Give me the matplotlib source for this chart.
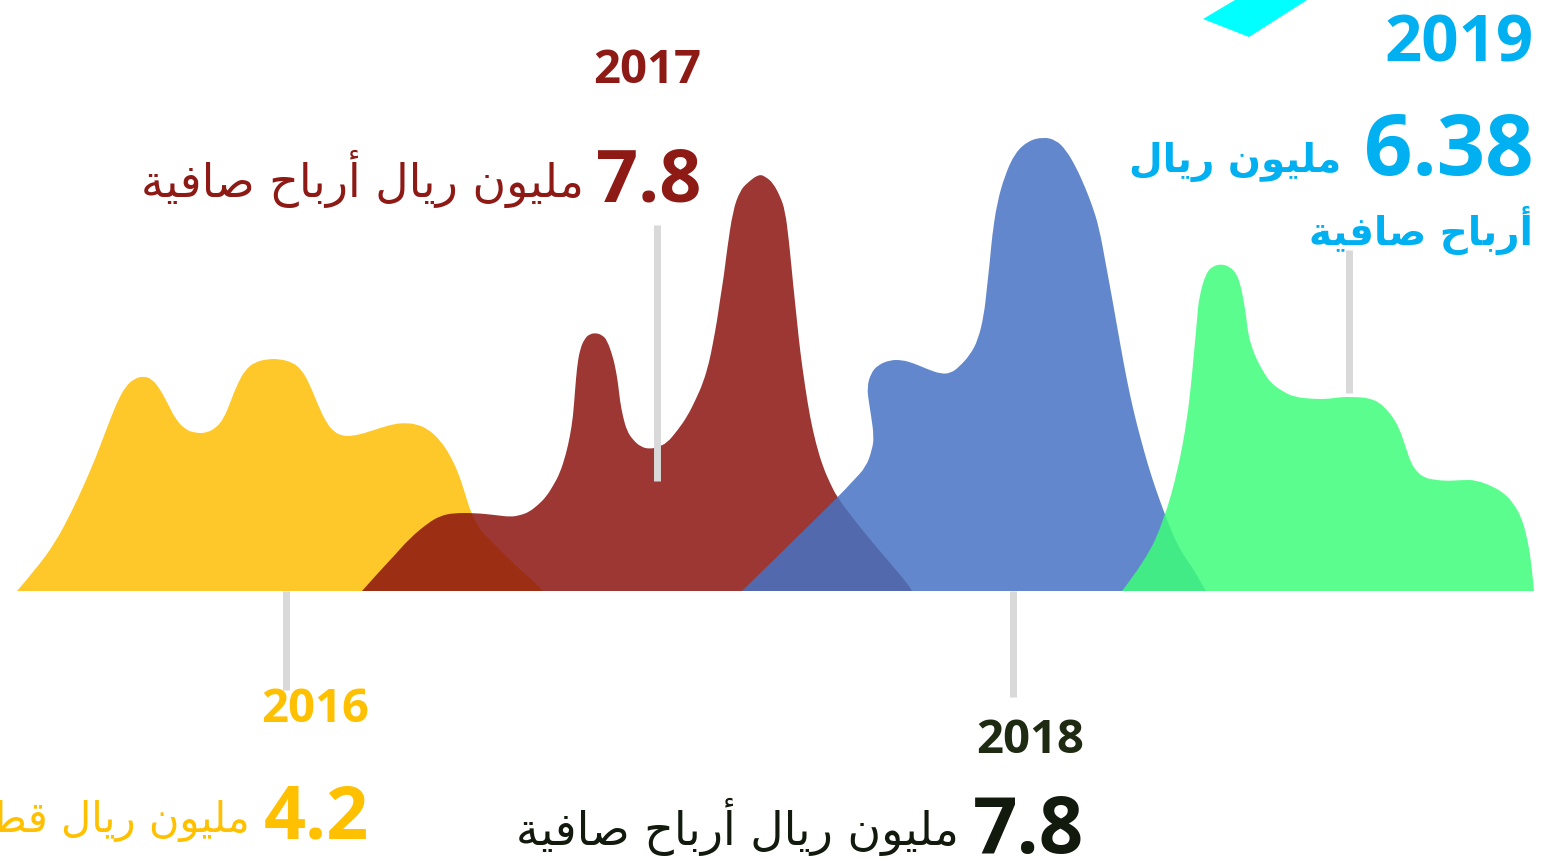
import matplotlib.pyplot as plt
from matplotlib.path import Path
from matplotlib.patches import PathPatch

# outlines of the four humps: x position (px) and height above the baseline (px)
x_2016 = [17, 36, 55, 71, 84, 96, 108, 118, 126, 134, 143, 152, 160, 168, 176, 186, 196, 206, 216, 224,
          230, 237, 245, 255, 268, 279, 292, 302, 310, 318, 326, 334, 343, 352, 365, 380, 394, 404, 416,
          428, 440, 450, 458, 464, 471, 480, 490, 500, 515, 530, 543]
h_2016 = [0, 22, 48, 78, 106, 134, 166, 191, 205, 212, 215, 212, 202, 187, 171, 161, 158, 158, 163, 173,
          188, 206, 221, 229, 232, 232, 229, 221, 206, 186, 169, 159, 155, 155, 158, 163, 167, 168, 167,
          162, 151, 136, 119, 101, 78, 61, 51, 41, 26, 13, 0]

x_2017 = [362, 378, 393, 410, 428, 440, 453, 475, 495, 511, 521, 529, 538, 546, 553, 560, 566, 570, 573,
          575, 577, 580, 585, 590, 596, 602, 607, 613, 616, 618, 620, 623, 627, 633, 641, 650, 658, 667,
          677, 687, 696, 703, 709, 713, 717, 720, 724, 727, 733, 740, 747, 759, 766, 773, 780, 785, 789,
          793, 797, 800, 805, 810, 816, 823, 830, 837, 855, 873, 890, 907, 912]
h_2017 = [0, 18, 34, 53, 68, 75, 78, 78, 76, 74, 76, 79, 86, 94, 105, 118, 137, 155, 174,
          200, 224, 242, 253, 257, 258, 256, 251, 234, 220, 208, 190, 174, 160, 151, 144, 142, 144, 148,
          160, 174, 192, 208, 228, 248, 270, 291, 316, 341, 381, 400, 408, 417, 414, 408, 395, 381, 350,
          308, 270, 241, 205, 174, 147, 124, 108, 94, 70, 48, 28, 8, 0]

x_2018 = [742, 790, 838, 853, 866, 872, 874, 871, 869, 867, 871, 878, 890, 902, 913, 927, 941, 951, 959,
          970, 978, 984, 987, 990, 992, 997, 1005, 1015, 1028, 1043, 1056, 1066, 1076, 1085, 1092, 1099,
          1106, 1113, 1120, 1127, 1134, 1141, 1148, 1155, 1164, 1173, 1182, 1192, 1199, 1206]
h_2018 = [0, 47, 94, 110, 124, 141, 154, 176, 188, 204, 218, 226, 231, 231, 228, 222, 217, 218, 224,
          236, 251, 276, 304, 331, 354, 388, 416, 438, 450, 454, 451, 441, 424, 404, 386, 364,
          326, 288, 248, 210, 178, 151, 126, 104, 79, 56, 38, 24, 12, 0]

x_2019 = [1122, 1146, 1164, 1178, 1187, 1191, 1194, 1197, 1199, 1206, 1213, 1222, 1230, 1236, 1240, 1243,
          1246, 1248, 1252, 1257, 1264, 1271, 1282, 1294, 1313, 1328, 1341, 1355, 1369, 1380, 1387, 1395,
          1401, 1406, 1411, 1417, 1425, 1436, 1448, 1462, 1476, 1494, 1505, 1513, 1521, 1527, 1531, 1534]
h_2019 = [0, 31, 71, 121, 171, 206, 238, 271, 294, 318, 325, 327, 324, 318, 308, 294,
          276, 258, 243, 231, 218, 208, 200, 194, 192, 192, 194, 194, 193, 188, 181, 171,
          158, 143, 128, 119, 113, 111, 110, 111, 111, 104, 97, 88, 75, 54, 31, 0]

years = ['2016', '2017', '2018', '2019']
profits = ['4.2', '7.8', '7.8', '6.38']
colors = ['#FEBF04', '#8B1410', '#4672C3', '#3EFD7B']
text_colors = ['#FFC000', '#8E1A16', '#111A0D', '#00B0F0']

# small arabic shaper (presentation forms) so the words join right to left
AR_FORMS = {
    'ا': ('\uFE8D', '\uFE8E', None, None),
    'أ': ('\uFE83', '\uFE84', None, None),
    'ب': ('\uFE8F', '\uFE90', '\uFE91', '\uFE92'),
    'ة': ('\uFE93', '\uFE94', None, None),
    'ح': ('\uFEA1', '\uFEA2', '\uFEA3', '\uFEA4'),
    'ر': ('\uFEAD', '\uFEAE', None, None),
    'ص': ('\uFEB9', '\uFEBA', '\uFEBB', '\uFEBC'),
    'ط': ('\uFEC1', '\uFEC2', '\uFEC3', '\uFEC4'),
    'ف': ('\uFED1', '\uFED2', '\uFED3', '\uFED4'),
    'ق': ('\uFED5', '\uFED6', '\uFED7', '\uFED8'),
    'ل': ('\uFEDD', '\uFEDE', '\uFEDF', '\uFEE0'),
    'م': ('\uFEE1', '\uFEE2', '\uFEE3', '\uFEE4'),
    'ن': ('\uFEE5', '\uFEE6', '\uFEE7', '\uFEE8'),
    'و': ('\uFEED', '\uFEEE', None, None),
    'ي': ('\uFEF1', '\uFEF2', '\uFEF3', '\uFEF4'),
}


def shape_ar(s):
    out = []
    for i, c in enumerate(s):
        if c not in AR_FORMS:
            out.append(c)
            continue
        prev = s[i - 1] if i > 0 else ''
        nxt = s[i + 1] if i + 1 < len(s) else ''
        f = AR_FORMS[c]
        join_prev = prev in AR_FORMS and AR_FORMS[prev][2] is not None
        join_next = nxt in AR_FORMS and f[2] is not None
        if join_prev and join_next:
            out.append(f[3])
        elif join_prev:
            out.append(f[1])
        elif join_next:
            out.append(f[2])
        else:
            out.append(f[0])
    return ''.join(reversed(out))


# smooth closed outline: quadratic curves with the read points as control points
def hump_path(xs, hs):
    verts = [(xs[0], hs[0])]
    codes = [Path.MOVETO]
    for i in range(1, len(xs) - 1):
        verts += [(xs[i], hs[i]), ((xs[i] + xs[i + 1]) / 2, (hs[i] + hs[i + 1]) / 2)]
        codes += [Path.CURVE3, Path.CURVE3]
    verts += [(xs[-1], hs[-1]), (xs[0], hs[0])]
    codes += [Path.LINETO, Path.CLOSEPOLY]
    return Path(verts, codes)


fig = plt.figure(figsize=(15.49, 8.63), dpi=100)
ax = fig.add_axes([0, 0, 1, 1])
ax.set_xlim(0, 1549)
ax.set_ylim(-272, 591)
ax.axis('off')

# humps, each one over the previous
for xs, hs, c in zip([x_2016, x_2017, x_2018, x_2019], [h_2016, h_2017, h_2018, h_2019], colors):
    ax.add_patch(PathPatch(hump_path(xs, hs), facecolor=c, alpha=0.85, linewidth=0))

# grey leader lines
grey = '#D9D9D9'
ax.plot([286, 286], [0, -99], color=grey, lw=5, solid_capstyle='butt', zorder=5)
ax.plot([657, 657], [366, 110], color=grey, lw=5, solid_capstyle='butt', zorder=5)
ax.plot([1013, 1013], [0, -106], color=grey, lw=5, solid_capstyle='butt', zorder=5)
ax.plot([1349, 1349], [341, 198], color=grey, lw=5, solid_capstyle='butt', zorder=5)

# cyan corner piece
ax.fill([1203, 1249, 1307, 1235], [572, 554, 591, 591], color='#00FFFF', linewidth=0)

num_font = 'Open Sans'
ar_font = 'DejaVu Sans'

# 2016
ax.text(369, -131, years[0], ha='right', va='baseline', fontsize=34, fontweight='bold',
        family=num_font, color=text_colors[0])
ax.text(369, -247, profits[0], ha='right', va='baseline', fontsize=53, fontweight='bold',
        family=num_font, color=text_colors[0])
ax.text(250, -241, shape_ar('مليون ريال قطري'), ha='right', va='baseline', fontsize=30,
        family=ar_font, color=text_colors[0])

# 2017
ax.text(701, 508, years[1], ha='right', va='baseline', fontsize=34, fontweight='bold',
        family=num_font, color=text_colors[1])
ax.text(701, 389, profits[1], ha='right', va='baseline', fontsize=53, fontweight='bold',
        family=num_font, color=text_colors[1])
ax.text(584, 394, shape_ar('مليون ريال أرباح صافية'), ha='right', va='baseline', fontsize=33,
        family=ar_font, color=text_colors[1])

# 2018
ax.text(1084, -162, years[2], ha='right', va='baseline', fontsize=34, fontweight='bold',
        family=num_font, color='#1E2A12')
ax.text(1084, -262, profits[2], ha='right', va='baseline', fontsize=56, fontweight='bold',
        family=num_font, color=text_colors[2])
ax.text(959, -254, shape_ar('مليون ريال أرباح صافية'), ha='right', va='baseline', fontsize=33,
        family=ar_font, color=text_colors[2])

# 2019
ax.text(1534, 529, years[3], ha='right', va='baseline', fontsize=47, fontweight='bold',
        family=num_font, color=text_colors[3])
ax.text(1534, 416, profits[3], ha='right', va='baseline', fontsize=61, fontweight='bold',
        family=num_font, color=text_colors[3])
ax.text(1341, 419, shape_ar('مليون ريال'), ha='right', va='baseline', fontsize=28, fontweight='bold',
        family=ar_font, color=text_colors[3])
ax.text(1533, 346, shape_ar('أرباح صافية'), ha='right', va='baseline', fontsize=28, fontweight='bold',
        family=ar_font, color=text_colors[3])

fig.savefig('out.png', dpi=100)
